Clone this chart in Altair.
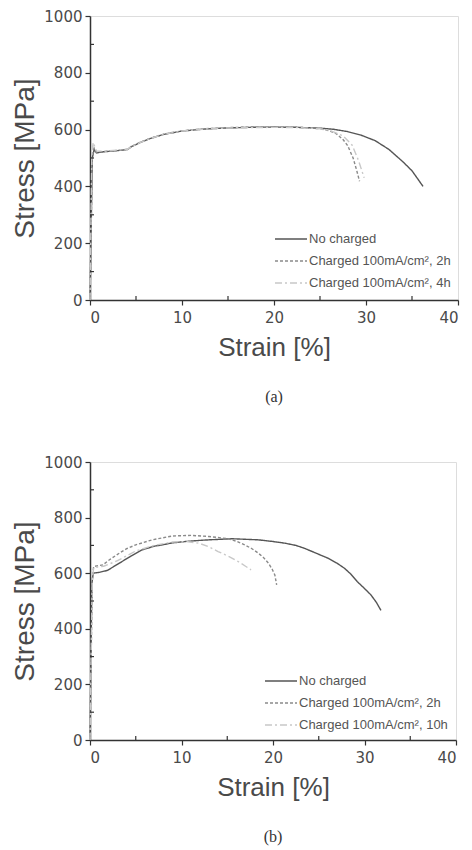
import altair as alt
import pandas as pd

# ---------------- Panel (a) data ----------------
a_names = ["No charged", "Charged 100mA/cm\u00b2, 2h", "Charged 100mA/cm\u00b2, 4h"]

a0_strain = [0, 0.25, 0.45, 0.7, 1.5, 3, 4.1, 4.5, 5.5, 6.5, 8, 10, 12.5, 15, 17.5, 20, 22.5, 25, 26.5, 28, 29.5, 31, 32.5, 34, 35, 36.2]
a0_stress = [0, 500, 530, 518, 522, 526, 530, 540, 555, 568, 583, 595, 602, 606, 608, 609, 608, 605, 601, 593, 580, 561, 530, 487, 455, 400]

a1_strain = [0, 0.25, 0.45, 0.7, 1.5, 3, 4.1, 4.5, 5.5, 6.5, 8, 10, 12.5, 15, 17.5, 20, 22.5, 25, 26, 26.8, 27.5, 28, 28.6, 29.0, 29.3]
a1_stress = [0, 505, 535, 520, 523, 527, 531, 541, 556, 569, 584, 596, 603, 607, 609, 610, 608, 603, 596, 585, 565, 544, 500, 455, 418]

a2_strain = [0, 0.2, 0.35, 0.7, 1.5, 3, 4.1, 4.5, 5.5, 6.5, 8, 10, 12.5, 15, 17.5, 20, 22.5, 25, 26, 27.5, 28.5, 29.2, 29.8]
a2_stress = [0, 520, 555, 525, 524, 528, 531, 540, 555, 568, 583, 595, 602, 606, 607, 608, 607, 603, 598, 578, 545, 490, 430]

# ---------------- Panel (b) data ----------------
b_names = ["No charged", "Charged 100mA/cm\u00b2, 2h", "Charged 100mA/cm\u00b2, 10h"]

b0_strain = [0, 0.2, 0.35, 1, 1.9, 2.5, 3.2, 4.5, 5.7, 7, 7.9, 9, 10.4, 12, 13, 15.5, 18.4, 20, 21.3, 22.5, 23.4, 24.5, 26, 27, 27.8, 28.5, 29.2, 30, 30.7, 31.3, 31.8]
b0_stress = [0, 560, 600, 603, 610, 622, 636, 662, 684, 697, 702, 709, 714, 718, 720, 724, 720, 714, 708, 700, 690, 675, 654, 636, 618, 597, 570, 545, 522, 495, 466]

b1_strain = [0, 0.25, 0.4, 1.4, 2.2, 3.2, 4, 5, 6.8, 9, 11.1, 13, 15.1, 16, 16.9, 17.7, 18.4, 19, 19.5, 19.9, 20.2, 20.4]
b1_stress = [0, 580, 624, 630, 650, 672, 688, 702, 720, 734, 736, 732, 724, 715, 702, 688, 672, 655, 636, 615, 594, 558]

b2_strain = [0, 0.25, 0.4, 1.5, 3, 5, 7, 9, 10.5, 11.9, 13, 14, 15.2, 16.2, 17, 17.6]
b2_stress = [0, 580, 620, 625, 645, 680, 700, 712, 714, 708, 695, 678, 660, 642, 625, 612]

x_ticks = [0, 10, 20, 30, 40]
y_ticks = [0, 200, 400, 600, 800, 1000]
x_minor = [5, 15, 25, 35]
y_minor = [100, 300, 500, 700, 900]

colors = ["#555555", "#8a8a8a", "#c8c8c8"]
dashes = [[1, 0], [3, 2], [7, 3, 2, 3]]

TXT = "#4a4a4a"
AX = "#333333"


def make_df(names, series):
    rows = []
    for name, (xs, ys) in zip(names, series):
        for i, (x, y) in enumerate(zip(xs, ys)):
            rows.append({"series": name, "strain": x, "stress": y, "idx": i})
    return pd.DataFrame(rows)


def panel(names, series, w, h, caption, leg_x, leg_y):
    df = make_df(names, series)
    xscale = alt.Scale(domain=[0, 40], nice=False)
    yscale = alt.Scale(domain=[0, 1000], nice=False)
    lines = alt.Chart(df).mark_line(strokeWidth=1.4).encode(
        x=alt.X("strain:Q", scale=xscale, title="Strain [%]",
                axis=alt.Axis(values=x_ticks, format="d", grid=False, tickSize=5, labelFontSize=15,
                              labelFont="DejaVu Sans", labelColor=TXT, titleFont="Liberation Sans",
                              titleFontSize=26, titleFontWeight="normal", titleColor=TXT,
                              domainColor=AX, tickColor=AX, labelPadding=5, titlePadding=9,
                              domainWidth=1.5, tickWidth=1.2)),
        y=alt.Y("stress:Q", scale=yscale, title="Stress [MPa]",
                axis=alt.Axis(values=y_ticks, format="d", grid=False, tickSize=5, labelFontSize=15,
                              labelFont="DejaVu Sans", labelColor=TXT, titleFont="Liberation Sans",
                              titleFontSize=28, titleFontWeight="normal", titleColor=TXT,
                              domainColor=AX, tickColor=AX, labelPadding=3, titlePadding=4,
                              domainWidth=1.5, tickWidth=1.2)),
        color=alt.Color("series:N", scale=alt.Scale(domain=names, range=colors), title=None,
                        legend=alt.Legend(orient="none", legendX=leg_x, legendY=leg_y,
                                          symbolType="M-2,0H2", symbolSize=256,
                                          symbolStrokeWidth=1.4, labelFont="Liberation Sans",
                                          labelFontSize=13, labelColor="#555555", rowPadding=6,
                                          labelOffset=9, padding=0)),
        strokeDash=alt.StrokeDash("series:N", scale=alt.Scale(domain=names, range=dashes), title=None),
        order="idx:Q",
    )
    xm = alt.Chart(pd.DataFrame({"m": x_minor})).mark_rule(color=AX, strokeWidth=1.2).encode(
        x=alt.X("m:Q", scale=xscale), y=alt.value(h), y2=alt.value(h - 4))
    ym = alt.Chart(pd.DataFrame({"m": y_minor})).mark_rule(color=AX, strokeWidth=1.2).encode(
        y=alt.Y("m:Q", scale=yscale), x=alt.value(0), x2=alt.value(4))
    return alt.layer(lines, xm, ym).properties(
        width=w, height=h,
        title=alt.TitleParams(caption, orient="bottom", font="Liberation Serif", fontSize=16,
                              fontWeight="normal", color="#333333", anchor="middle", offset=29))


top = panel(a_names, [(a0_strain, a0_stress), (a1_strain, a1_stress), (a2_strain, a2_stress)],
            368, 284, "(a)", 192, 214)
bot = panel(b_names, [(b0_strain, b0_stress), (b1_strain, b1_stress), (b2_strain, b2_stress)],
            366, 278, "(b)", 182, 210)

chart = alt.vconcat(top, bot, spacing=48).resolve_scale(
    color="independent", strokeDash="independent").resolve_legend(
    color="independent", strokeDash="independent").properties(
    padding={"left": 3, "top": 0, "right": 0, "bottom": 0}).configure_view(
    stroke=AX, strokeWidth=1.5).configure(background="white")

chart.save("out.html", embed_options={"renderer": "svg", "actions": False})
